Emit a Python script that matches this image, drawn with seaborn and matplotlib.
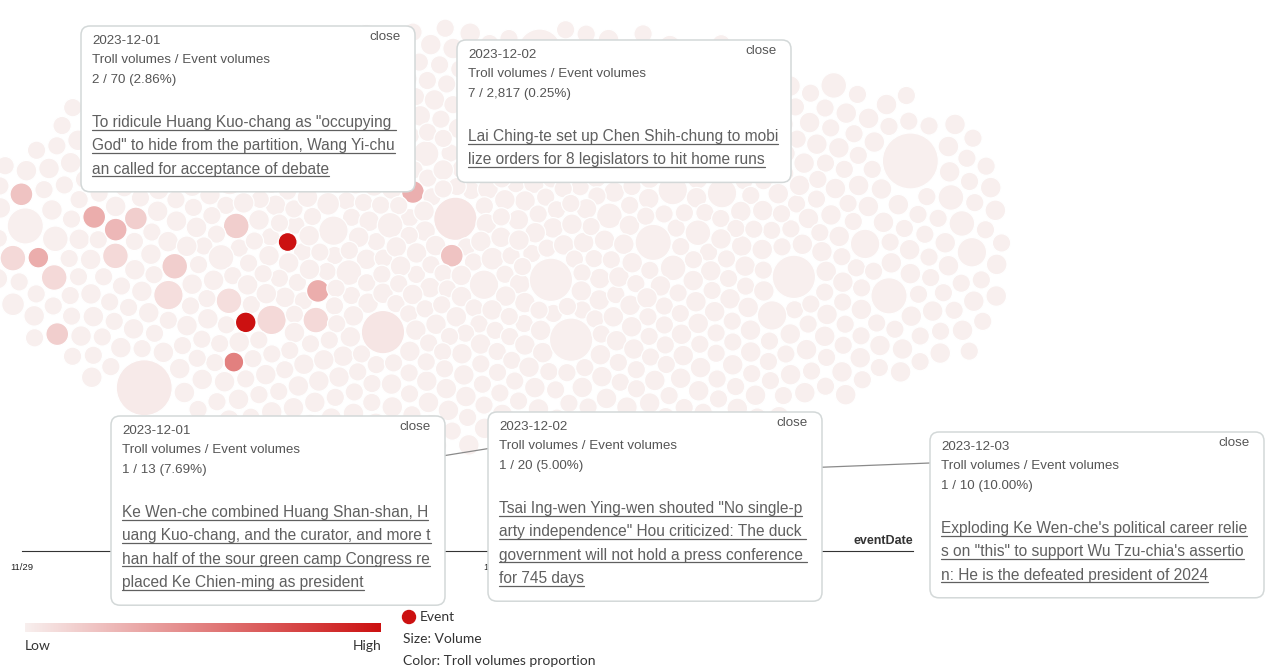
import re
import numpy as np
import pandas as pd
import matplotlib
matplotlib.use("Agg")
import matplotlib.pyplot as plt
from matplotlib.colors import LinearSegmentedColormap
from matplotlib.patches import FancyBboxPatch, Circle
from matplotlib.transforms import Affine2D
import seaborn as sns

sns.set_style("white")
plt.rcParams["font.family"] = ["Liberation Sans", "DejaVu Sans"]

W, H = 1265, 670

# events in 3-hour slots from 2023-11-29 00:00, listed top to bottom
# letter = volume class, number after it = troll share (%), #k = pinned event k
start_date = "2023-11-29"
slot_events = [
    "aabac2abfb3ad1ababca",
    "abaabcababaabac3abadabd1abaababac1.5ab",
    "ababaabcabaabdabaababababc1.5ac2.5abd1ababd1.5abaabe0.8abaabababab#1a",
    "abaabacabaababaabdababad1.5ababaabdabad0.8abaababa#3aabababab",
    "abaabcababaabadababaabac2ababaabaaba#4abaababababab10e1ababaabaabababababab",
    "abaabacababababaabdabaababaacababaeababaabadababc3abd1abaabababaabaabababab",
    "abaf0.8baabacababaabdababaab#0ababaabdababaababababag0.5ababaababababababab",
    "abababaabaabab#2abaabd1.5abababag0.5ababc2ababeabaababababaabaababaababab",
    "agabaabababaabdababaababababaabababababcababgababaababaabaababaabaabababab",
    "abaabaababababababaabgababaabdababababaabababaabgababaabababaababab",
    "abaabababaababababababababeababaabfabadababaabaababbabaababaabababab",
    "abaabababaababababababeababaabdababaabababababaababababaababab",
    "ababaabababaabababaababababaababgababeababaababababab",
    "dababaabababaababaabeababaabababaababababaab",
    "abaabhababaabababaabafababaababab",
    "ababaababdabadabeababaababaabab",
]
volume_class = {"a": 6, "b": 30, "c": 70, "d": 150, "e": 300, "f": 700, "g": 1300, "h": 2817}

pinned_date = ["2023-12-01", "2023-12-02", "2023-12-01", "2023-12-02", "2023-12-03"]
pinned_troll = [2, 7, 1, 1, 1]
pinned_volume = [70, 2817, 13, 20, 10]
pinned_title = [
    ['To ridicule Huang Kuo-chang as "occupying ',
     'God" to hide from the partition, Wang Yi-chu',
     'an called for acceptance of debate'],
    ['Lai Ching-te set up Chen Shih-chung to mobi',
     'lize orders for 8 legislators to hit home runs'],
    ['Ke Wen-che combined Huang Shan-shan, H',
     'uang Kuo-chang, and the curator, and more t',
     'han half of the sour green camp Congress re',
     'placed Ke Chien-ming as president'],
    ['Tsai Ing-wen Ying-wen shouted "No single-p',
     'arty independence" Hou criticized: The duck ',
     'government will not hold a press conference ',
     'for 745 days'],
    ["Exploding Ke Wen-che's political career relie",
     's on "this" to support Wu Tzu-chia\'s assertio',
     'n: He is the defeated president of 2024'],
]
box_pos = [(81, 26), (457, 40), (111, 416), (488, 412), (930, 432)]

# ---- parse events
rows = []
for i, s in enumerate(slot_events):
    toks = re.findall(r"#(\d)|([a-h])(\d*\.?\d*)", s)
    for k, (pin, cls, pct) in enumerate(toks):
        if pin:
            p = int(pin)
            vol, share = pinned_volume[p], pinned_troll[p] / pinned_volume[p]
        else:
            vol, share = volume_class[cls], (float(pct) / 100 if pct else 0.0)
        rows.append(dict(slot=i, k=k, n=len(toks), volume=vol, share=share))
df = pd.DataFrame(rows)
t0 = pd.Timestamp(start_date)
df["time"] = t0 + pd.to_timedelta((df["slot"] + 0.5) * 3, unit="h")
df["day"] = (df["time"] - t0) / pd.Timedelta(days=1)

# ---- radius (sqrt scale) and packing in pixel space
x_origin, px_day = 22, 473
vmin, vmax = df["volume"].min(), df["volume"].max()
rad = lambda v: 9.2 + 18.8 * (np.sqrt(v) - np.sqrt(vmin)) / (np.sqrt(vmax) - np.sqrt(vmin))
r = rad(df["volume"].values)
pad = 2.6
tx = x_origin + px_day * df["day"].values
cy = 238.0
area = df.groupby("slot")["volume"].transform(lambda v: ((2 * rad(v) + pad) ** 2).sum()).values
hgt = area / 59.0 * 0.95
x = tx + ((df["k"].values % 3) - 1) * 19.0
y = cy - hgt / 2 + hgt * (df["k"].values + 0.5) / df["n"].values
y += 0.37 * np.arange(len(df)) % 1.0   # break ties between identical starts

rr = r[:, None] + r[None, :] + pad
wgt = r[None, :] ** 2 / (r[:, None] ** 2 + r[None, :] ** 2)
for it in range(800):
    if it < 600:
        x += (tx - x) * 0.05
        y += (cy - y) * 0.008
    dx = x[:, None] - x[None, :]
    dy = y[:, None] - y[None, :]
    d = np.sqrt(dx * dx + dy * dy) + 1e-6
    ov = np.clip(rr - d, 0, None)
    np.fill_diagonal(ov, 0)
    f = ov / d * wgt
    x += (dx * f).sum(1) * 0.5
    y += (dy * f).sum(1) * 0.5
df["px"] = x
df["py"] = y
df["xd"] = (df["px"] - x_origin) / px_day

# ---- figure
fig = plt.figure(figsize=(W / 100, H / 100), dpi=100)
ax = fig.add_axes([0, 0, 1, 1])
ax.patch.set_visible(False)
ax.set_zorder(2)
pxT = Affine2D().scale(1 / W, -1 / H).translate(0, 1) + fig.transFigure

cmap = LinearSegmentedColormap.from_list("troll", ["#f8efee", "#cc1111"])
sizes = {v: (2 * rad(v) * 0.72) ** 2 for v in df["volume"].unique()}
sns.scatterplot(data=df, x="xd", y="py", hue="share", palette=cmap, hue_norm=(0, 0.1),
                size="volume", sizes=sizes, legend=False, edgecolor="white",
                linewidth=0.9, ax=ax)
ax.set_xlim(-x_origin / px_day, (W - x_origin) / px_day)
ax.set_ylim(H, 0)
ax.axis("off")

# ---- timeline axis
tl_end = (913 - x_origin) / px_day
tl = fig.add_axes([x_origin / W, 1 - 551 / H, (913 - x_origin) / W, 0.5 / H])
tl.set_zorder(1)
tl.patch.set_visible(False)
for sp in ["top", "left", "right"]:
    tl.spines[sp].set_visible(False)
tl.spines["bottom"].set_color("#333333")
tl.set_xlim(0, tl_end)
tl.set_yticks([])
days = pd.date_range(start_date, periods=2, freq="D")
tl.set_xticks([0, 1], [d.strftime("%m/%d") for d in days])
tl.set_xticks([tl_end], minor=True)
tl.tick_params(axis="x", which="both", direction="out", length=5, width=1,
               color="#333333", labelsize=6.8, labelcolor="#222222", pad=4)
ax.text(913, 541, "eventDate", transform=pxT, ha="right", va="center",
        fontsize=9, fontweight="bold", color="#333333")

# ---- leader lines (behind boxes)
ax.plot([930, 700], [463, 472], transform=pxT, color="#8a8a8a", lw=0.9, zorder=4)
ax.plot([380, 560], [466, 437], transform=pxT, color="#8a8a8a", lw=0.9, zorder=4)

# ---- pinned boxes
heads = []
for p, (bx, by) in enumerate(box_pos):
    lines = pinned_title[p]
    bh = 96 + 23.4 * (len(lines) - 1) + 23
    ax.add_patch(FancyBboxPatch((bx, by), 334, bh, boxstyle="round,pad=0,rounding_size=9",
                                transform=pxT, fc="white", ec="#d3d8d8", lw=1.1,
                                zorder=5, clip_on=False))
    tv, vv = pinned_troll[p], pinned_volume[p]
    kw = dict(transform=pxT, fontsize=9.6, color="#555555", va="center", zorder=6)
    ax.text(bx + 11, by + 15, pinned_date[p], **kw)
    ax.text(bx + 320, by + 11, "close", ha="right", **kw)
    ax.text(bx + 11, by + 34, "Troll volumes / Event volumes", **kw)
    ax.text(bx + 11, by + 54, f"{tv} / {vv:,} ({tv / vv:.2%})", **kw)
    for j, ln in enumerate(lines):
        yb = by + 101 + 23.4 * j
        t = ax.text(bx + 11, yb, ln, transform=pxT, fontsize=11.2, color="#606060",
                    va="baseline", zorder=6)
        heads.append((t, yb))

# ---- legend
cax = fig.add_axes([25 / W, 1 - 632 / H, 356 / W, 9 / H])
cax.imshow(np.linspace(0, 1, 256)[None, :], cmap=cmap, aspect="auto")
cax.axis("off")
lkw = dict(transform=pxT, fontsize=10, color="#333333", va="center", family=["Lato", "DejaVu Sans"])
ax.text(25, 646, "Low", ha="left", **lkw)
ax.text(381, 646, "High", ha="right", **lkw)
ax.add_patch(Circle((409, 617), 6.5, transform=pxT, color=cmap(1.0), clip_on=False))
ax.text(420, 617, "Event", **lkw)
ax.text(403, 639, "Size: Volume", **lkw)
ax.text(403, 661, "Color: Troll volumes proportion", **lkw)

# underline the headlines
fig.canvas.draw()
rend = fig.canvas.get_renderer()
for t, yb in heads:
    bb = t.get_window_extent(rend)
    ax.plot([bb.x0, bb.x1], [yb + 2.5, yb + 2.5], transform=pxT, color="#606060",
            lw=0.9, zorder=6)

fig.savefig("out.png", dpi=100)
